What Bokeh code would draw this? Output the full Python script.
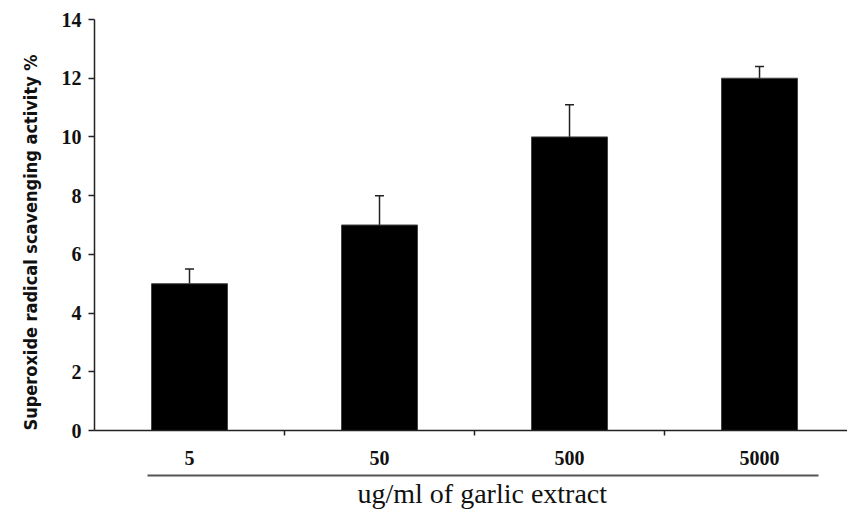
from bokeh.plotting import figure
from bokeh.models import (ColumnDataSource, Range1d, FixedTicker, LinearAxis,
                          Whisker, TeeHead, Title)
from bokeh.embed import file_html
from bokeh.resources import INLINE

# Garlic extract concentration (ug/ml) and superoxide scavenging activity (%)
categories = ["5", "50", "500", "5000"]
activity = [5.0, 7.0, 10.0, 12.0]
activity_upper = [5.5, 8.0, 11.1, 12.4]
y_ticks = [0, 2, 4, 6, 8, 10, 12, 14]

xs = [i + 0.5 for i in range(len(categories))]
source = ColumnDataSource(data=dict(x=xs, value=activity, upper=activity_upper))

p = figure(width=847, height=510, output_backend="svg", toolbar_location=None,
           x_range=Range1d(0, 3.963), y_range=Range1d(0, 14),
           min_border_left=92, min_border_right=0, min_border_top=19,
           min_border_bottom=80, x_axis_type=None)
p.outline_line_color = None
p.grid.grid_line_color = None
p.background_fill_color = "white"
p.border_fill_color = "white"

p.vbar(x="x", top="value", width=0.4, source=source,
       fill_color="black", line_color="#444444", line_width=1)

p.add_layout(Whisker(base="x", upper="upper", lower="value", source=source,
                     upper_head=TeeHead(size=9, line_width=1.5, line_color="#222222"),
                     lower_head=None, line_width=1.5, line_color="#222222"))

serif = "Liberation Serif"

# y axis
ya = p.yaxis[0]
ya.ticker = FixedTicker(ticks=y_ticks)
ya.minor_tick_line_color = None
ya.major_tick_in = 0
ya.major_tick_out = 6
ya.axis_line_width = 1.5
ya.axis_line_color = "#222222"
ya.major_tick_line_width = 1.5
ya.major_tick_line_color = "#222222"
ya.major_label_text_font = serif
ya.major_label_text_font_style = "bold"
ya.major_label_text_font_size = "20px"
ya.major_label_text_color = "#111111"
ya.major_label_standoff = 7

# category axis: labels centred on bars, small ticks between groups
xa = LinearAxis(ticker=FixedTicker(ticks=xs, minor_ticks=[1, 2, 3]),
                major_label_overrides={x: c for x, c in zip(xs, categories)},
                axis_label=" ")
xa.major_tick_in = 0
xa.major_tick_out = 0
xa.minor_tick_in = 0
xa.minor_tick_out = 5
xa.minor_tick_line_width = 1.5
xa.minor_tick_line_color = "#222222"
xa.axis_line_width = 1.5
xa.axis_line_color = "#222222"
xa.major_label_text_font = serif
xa.major_label_text_font_style = "bold"
xa.major_label_text_font_size = "20px"
xa.major_label_text_color = "#111111"
xa.major_label_standoff = 15
xa.axis_label_text_font_size = "1px"
xa.axis_label_standoff = 4
p.add_layout(xa, "below")

# underline beneath the category labels
xa2 = LinearAxis(ticker=FixedTicker(ticks=[]), bounds=(0.278, 3.81))
xa2.major_tick_out = 0
xa2.major_tick_in = 0
xa2.major_label_text_font_size = "0px"
xa2.axis_line_width = 2
xa2.axis_line_color = "#555555"
p.add_layout(xa2, "below")

p.add_layout(Title(text="ug/ml of garlic extract", align="left", offset=263,
                   text_font=serif, text_font_style="normal",
                   text_font_size="28px", text_color="#111111", standoff=0),
             "below")

p.add_layout(Title(text="Superoxide radical scavenging  activity %",
                   align="left", offset=0,
                   text_font="DejaVu Sans Condensed", text_font_style="bold",
                   text_font_size="18px", text_color="#111111", standoff=35),
             "left")

open("out.html", "w").write(file_html(p, INLINE))
